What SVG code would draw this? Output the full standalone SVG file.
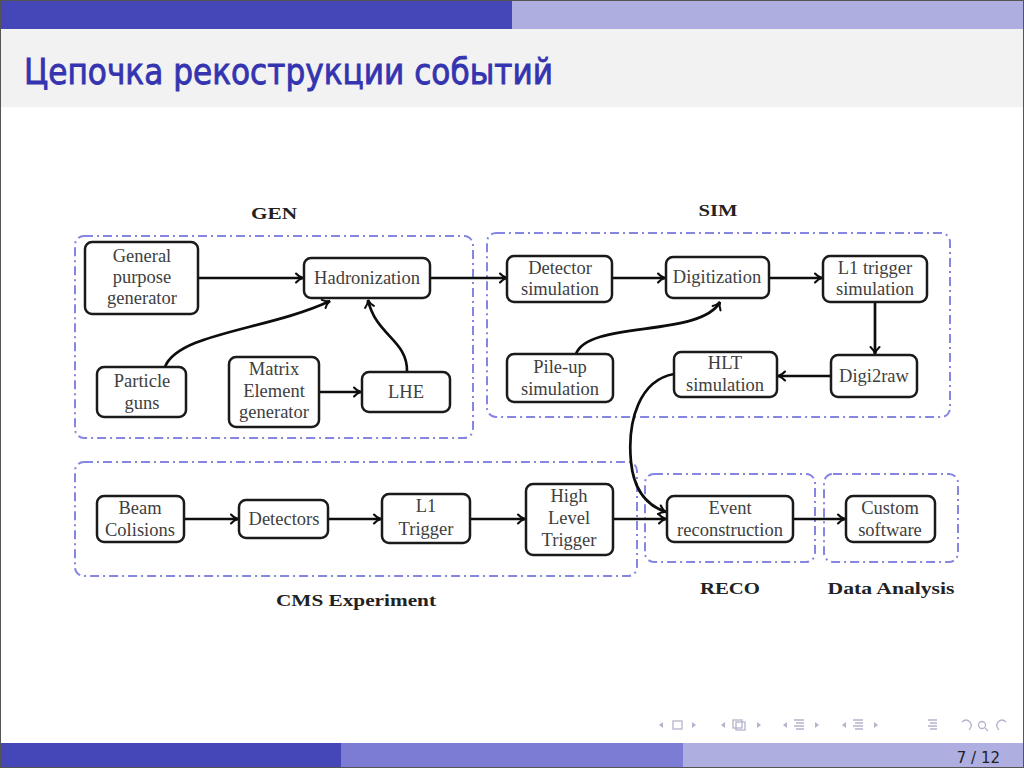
<svg xmlns="http://www.w3.org/2000/svg" width="1024" height="768" viewBox="0 0 1024 768">
<defs>
<style>
.box{fill:#fff;stroke:#1a1a1a;stroke-width:2.5}
.grp{fill:none;stroke:#8585e2;stroke-width:2;stroke-dasharray:9 4 2 4}
.t{font-family:"Liberation Serif","Times New Roman",serif;font-size:18.5px;fill:#404040;text-anchor:middle}
.lbl{font-family:"Liberation Serif","Times New Roman",serif;font-size:16px;font-weight:bold;fill:#222;text-anchor:middle}
.c{fill:none;stroke:#0d0d0d;stroke-width:2.7}
.nav{fill:none;stroke:#b4b4cc;stroke-width:1.3}
.navf{fill:#b4b4cc}
</style>
<marker id="arr" viewBox="0 0 12 12" refX="10" refY="6" markerWidth="12" markerHeight="12" markerUnits="userSpaceOnUse" orient="auto">
<path d="M3,1.5 Q6,5 10,6 Q6,7 3,10.5" fill="none" stroke="#0d0d0d" stroke-width="2.1" stroke-linecap="round"/>
</marker>
</defs>
<rect x="0" y="0" width="1024" height="768" fill="#fff"/>
<!-- header -->
<rect x="0" y="0" width="512" height="29" fill="#4547b8"/>
<rect x="512" y="0" width="512" height="29" fill="#aeaee0"/>
<rect x="0" y="29" width="1024" height="78" fill="#f2f2f2"/>
<text x="24" y="84" font-family="'DejaVu Sans',Verdana,sans-serif" font-size="36" fill="#3434b0" stroke="#3434b0" stroke-width="0.9" textLength="529" lengthAdjust="spacingAndGlyphs">Цепочка рекострукции событий</text>
<!-- footer -->
<rect x="0" y="743" width="341" height="25" fill="#4547b8"/>
<rect x="341" y="743" width="342" height="25" fill="#7c7cd4"/>
<rect x="683" y="743" width="341" height="25" fill="#aeaee0"/>
<text x="1000" y="763" font-family="'DejaVu Sans',Verdana,sans-serif" font-size="15" fill="#222" text-anchor="end">7 / 12</text>
<g id="nav">
<polygon class="navf" points="663,722 659,725 663,728"/>
<rect class="nav" x="673" y="721" width="9" height="8"/>
<polygon class="navf" points="692,722 696,725 692,728"/>
<polygon class="navf" points="725,722 721,725 725,728"/>
<rect class="nav" x="733" y="720" width="9" height="8"/>
<rect class="nav" x="736" y="722" width="9" height="8" fill="#fff"/>
<polygon class="navf" points="757,722 761,725 757,728"/>
<polygon class="navf" points="787,722 783,725 787,728"/>
<path class="nav" d="M794,720h10M796,723h8M794,726h10M796,729h8"/>
<polygon class="navf" points="815,722 819,725 815,728"/>
<polygon class="navf" points="846,722 842,725 846,728"/>
<path class="nav" d="M853,720h10M855,723h8M853,726h10M855,729h8"/>
<polygon class="navf" points="874,722 878,725 874,728"/>
<path class="nav" d="M928,720h9M930,723h7M928,726h9M930,729h7"/>
<path class="nav" d="M962,722 q4,-4 8,0 q3,4 -1,8"/>
<circle class="nav" cx="982" cy="725" r="3.5"/>
<path class="nav" d="M985,728 l3,3"/>
<path class="nav" d="M1006,722 q-4,-4 -8,0 q-3,4 1,8"/>
</g>
<rect x="0.5" y="0.5" width="1023" height="767" fill="none" stroke="#555" stroke-width="1"/>

<!-- groups -->
<g id="groups">
<rect class="grp" x="75" y="236" width="398" height="202" rx="9"/>
<rect class="grp" x="487" y="233" width="463" height="184" rx="9"/>
<rect class="grp" x="75" y="462" width="562" height="114" rx="9"/>
<rect class="grp" x="645" y="474" width="170" height="88" rx="9"/>
<rect class="grp" x="824" y="474" width="134" height="88" rx="9"/>
<text class="lbl" x="274" y="219" textLength="46" lengthAdjust="spacingAndGlyphs">GEN</text>
<text class="lbl" x="718" y="216" textLength="39" lengthAdjust="spacingAndGlyphs">SIM</text>
<text class="lbl" x="356" y="606" textLength="160" lengthAdjust="spacingAndGlyphs">CMS Experiment</text>
<text class="lbl" x="730" y="594" textLength="60" lengthAdjust="spacingAndGlyphs">RECO</text>
<text class="lbl" x="891" y="594" textLength="127" lengthAdjust="spacingAndGlyphs">Data Analysis</text>
</g>

<!-- connectors -->
<g id="connectors">
<path class="c" d="M198,278 H303" marker-end="url(#arr)"/>
<path class="c" d="M165,367 C178,333 268,330 330,301" marker-end="url(#arr)"/>
<path class="c" d="M407,372 C408,340 376,336 368,300" marker-end="url(#arr)"/>
<path class="c" d="M319,392 H361" marker-end="url(#arr)"/>
<path class="c" d="M430,278 H507" marker-end="url(#arr)"/>
<path class="c" d="M612,278 H665" marker-end="url(#arr)"/>
<path class="c" d="M769,278 H822" marker-end="url(#arr)"/>
<path class="c" d="M576,354 C588,320 700,338 720,302" marker-end="url(#arr)"/>
<path class="c" d="M875,302 V354" marker-end="url(#arr)"/>
<path class="c" d="M831,376 H778" marker-end="url(#arr)"/>
<path class="c" d="M674,374 C640,380 627,420 631,462 C634,492 648,506 666,512" marker-end="url(#arr)"/>
<path class="c" d="M184,519 H238" marker-end="url(#arr)"/>
<path class="c" d="M328,519 H381" marker-end="url(#arr)"/>
<path class="c" d="M470,519 H525" marker-end="url(#arr)"/>
<path class="c" d="M613,519 H666" marker-end="url(#arr)"/>
<path class="c" d="M793,519 H845" marker-end="url(#arr)"/>
</g>

<!-- GEN nodes -->
<g id="general-purpose-generator"><rect class="box" x="85" y="242" width="113" height="72" rx="7"/>
<text class="t" x="142" y="262">General</text><text class="t" x="142" y="283">purpose</text><text class="t" x="142" y="304">generator</text></g>
<g id="hadronization"><rect class="box" x="304" y="258" width="126" height="40" rx="7"/>
<text class="t" x="367" y="284">Hadronization</text></g>
<g id="particle-guns"><rect class="box" x="97" y="367" width="89" height="50" rx="7"/>
<text class="t" x="142" y="387">Particle</text><text class="t" x="142" y="409">guns</text></g>
<g id="matrix-element-generator"><rect class="box" x="229" y="357" width="90" height="70" rx="7"/>
<text class="t" x="274" y="375">Matrix</text><text class="t" x="274" y="397">Element</text><text class="t" x="274" y="418">generator</text></g>
<g id="lhe"><rect class="box" x="362" y="372" width="88" height="40" rx="7"/>
<text class="t" x="406" y="398">LHE</text></g>

<!-- SIM nodes -->
<g id="detector-simulation"><rect class="box" x="507" y="256" width="105" height="46" rx="7"/>
<text class="t" x="560" y="274">Detector</text><text class="t" x="560" y="295">simulation</text></g>
<g id="digitization"><rect class="box" x="666" y="257" width="103" height="41" rx="7"/>
<text class="t" x="717" y="283">Digitization</text></g>
<g id="l1-trigger-simulation"><rect class="box" x="823" y="256" width="104" height="46" rx="7"/>
<text class="t" x="875" y="274">L1 trigger</text><text class="t" x="875" y="295">simulation</text></g>
<g id="pile-up-simulation"><rect class="box" x="507" y="354" width="106" height="48" rx="7"/>
<text class="t" x="560" y="373">Pile-up</text><text class="t" x="560" y="395">simulation</text></g>
<g id="hlt-simulation"><rect class="box" x="674" y="352" width="103" height="45" rx="7"/>
<text class="t" x="725" y="369">HLT</text><text class="t" x="725" y="391">simulation</text></g>
<g id="digi2raw"><rect class="box" x="831" y="355" width="86" height="42" rx="7"/>
<text class="t" x="874" y="382">Digi2raw</text></g>

<!-- CMS nodes -->
<g id="beam-colisions"><rect class="box" x="97" y="496" width="87" height="46" rx="7"/>
<text class="t" x="140" y="514">Beam</text><text class="t" x="140" y="536">Colisions</text></g>
<g id="detectors"><rect class="box" x="239" y="500" width="89" height="38" rx="7"/>
<text class="t" x="284" y="525">Detectors</text></g>
<g id="l1-trigger"><rect class="box" x="382" y="494" width="88" height="49" rx="7"/>
<text class="t" x="426" y="512">L1</text><text class="t" x="426" y="535">Trigger</text></g>
<g id="high-level-trigger"><rect class="box" x="526" y="484" width="87" height="71" rx="7"/>
<text class="t" x="569" y="502">High</text><text class="t" x="569" y="524">Level</text><text class="t" x="569" y="546">Trigger</text></g>

<!-- RECO / Analysis nodes -->
<g id="event-reconstruction"><rect class="box" x="667" y="496" width="126" height="46" rx="7"/>
<text class="t" x="730" y="514">Event</text><text class="t" x="730" y="536">reconstruction</text></g>
<g id="custom-software"><rect class="box" x="846" y="496" width="89" height="46" rx="7"/>
<text class="t" x="890" y="514">Custom</text><text class="t" x="890" y="536">software</text></g>
</svg>
